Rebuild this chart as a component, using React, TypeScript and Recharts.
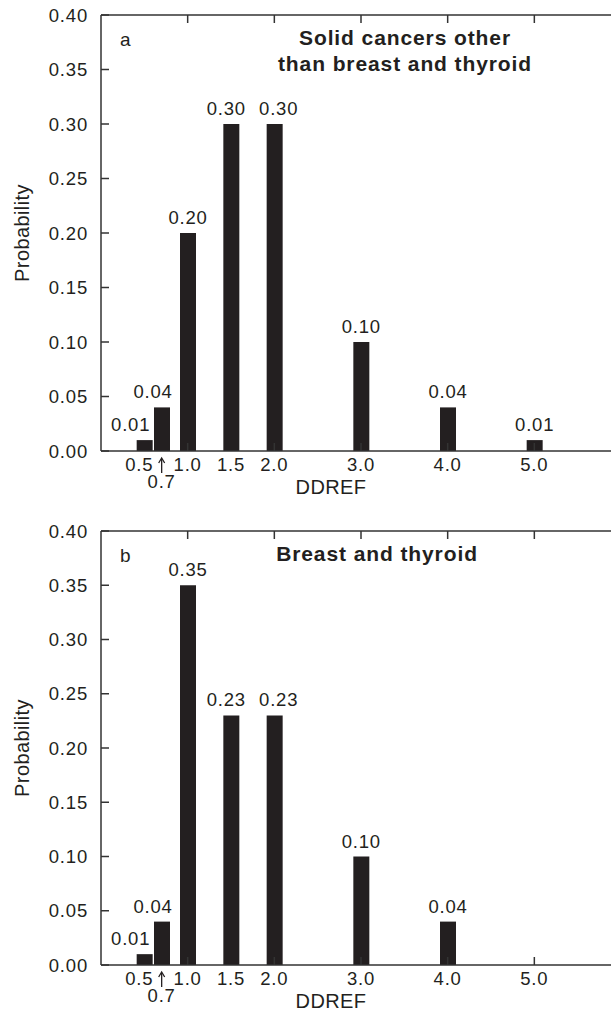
import React from 'react';
import { BarChart, Bar, XAxis, YAxis, LabelList, ReferenceLine } from 'recharts';

const ddref = [0.5, 0.7, 1.0, 1.5, 2.0, 3.0, 4.0, 5.0];
const probSolid = [0.01, 0.04, 0.2, 0.3, 0.3, 0.1, 0.04, 0.01];
const probBreastThyroid = [0.01, 0.04, 0.35, 0.23, 0.23, 0.1, 0.04, null];

const xLabelTicks = [0.5, 0.7, 1.0, 1.5, 2.0, 3.0, 4.0, 5.0];
const yTicks = [0, 0.05, 0.1, 0.15, 0.2, 0.25, 0.3, 0.35, 0.4];

// value labels nudged sideways where neighbours would touch
const LABEL_DX: Record<string, number> = { '0.5': -14, '0.7': -9, '1.5': -5, '2': 4 };

const INK = '#231f20';
const AXIS = '#333333';
const FONT = '"Liberation Sans", Arial, Helvetica, sans-serif';
const numText = { fill: INK, fontSize: 18.5, fontFamily: FONT, letterSpacing: 0.8 };
const TICK_LEN = 8;

// bottom labels + inward tick marks (bottom and top) at whole numbers
function DdrefTick(props: any) {
  const { x, y, payload, plotHeight } = props;
  const v = payload.value as number;
  const label = v.toFixed(1);
  const whole = Math.abs(v - Math.round(v)) < 1e-9;
  const marks = whole ? (
    <>
      <line x1={x} y1={y} x2={x} y2={y - TICK_LEN} stroke={AXIS} strokeWidth={1.5} />
      <line x1={x} y1={y - plotHeight} x2={x} y2={y - plotHeight + TICK_LEN} stroke={AXIS} strokeWidth={1.5} />
    </>
  ) : null;
  if (Math.abs(v - 0.7) < 1e-9) {
    return (
      <g>
        <line x1={x} y1={y + 8} x2={x} y2={y + 22} stroke={INK} strokeWidth={1.3} />
        <polyline
          points={`${x - 3},${y + 12} ${x},${y + 7} ${x + 3},${y + 12}`}
          fill="none"
          stroke={INK}
          strokeWidth={1.3}
        />
        <text x={x} y={y + 37} textAnchor="middle" style={numText}>{label}</text>
      </g>
    );
  }
  const dx = v === 0.5 ? -5 : 0;
  return (
    <g>
      {marks}
      <text x={x + dx} y={y + 20} textAnchor="middle" style={numText}>{label}</text>
    </g>
  );
}

// y labels outside, tick marks pointing into the plot
function ProbTick(props: any) {
  const { x, y, payload } = props;
  const axisX = x + 13;
  return (
    <g>
      <line x1={axisX} y1={y} x2={axisX + TICK_LEN} y2={y} stroke={AXIS} strokeWidth={1.5} />
      <text x={x} y={y + 6.5} textAnchor="end" style={numText}>
        {Number(payload.value).toFixed(2)}
      </text>
    </g>
  );
}

function renderValueLabel(props: any) {
  const { x, y, width, value, index } = props;
  if (value === null || value === undefined) return null;
  const dx = LABEL_DX[String(ddref[index])] ?? 0;
  return (
    <text
      key={index}
      x={Number(x) + Number(width) / 2 + dx}
      y={Number(y) - 9}
      textAnchor="middle"
      style={numText}
    >
      {Number(value).toFixed(2)}
    </text>
  );
}

interface PanelProps {
  values: (number | null)[];
  letter: string;
  title: string[];
  titleX: number;
  top: number;
  plotHeight: number;
}

function Panel({ values, letter, title, titleX, top, plotHeight }: PanelProps) {
  const data = ddref.map((x, i) => ({ x, p: values[i] }));
  const plotTop = 15;
  const plotBottom = plotTop + plotHeight;
  return (
    <div style={{ position: 'absolute', left: 0, top }}>
      <BarChart
        width={640}
        height={plotBottom + 70}
        data={data}
        margin={{ top: plotTop, right: 19, bottom: 20, left: 41 }}
      >
        <XAxis
          dataKey="x"
          type="number"
          domain={[0, 6]}
          allowDataOverflow
          ticks={xLabelTicks}
          interval={0}
          height={50}
          tickSize={0}
          tickMargin={0}
          tickLine={false}
          axisLine={{ stroke: AXIS, strokeWidth: 1.5 }}
          tick={<DdrefTick plotHeight={plotHeight} />}
        />
        <YAxis
          type="number"
          domain={[0, 0.4]}
          allowDataOverflow
          ticks={yTicks}
          interval={0}
          width={60}
          tickSize={0}
          tickMargin={13}
          tickLine={false}
          axisLine={{ stroke: AXIS, strokeWidth: 1.5 }}
          tick={<ProbTick />}
        />
        <ReferenceLine y={0.4} stroke={AXIS} strokeWidth={1.5} />
        <Bar dataKey="p" fill={INK} barSize={16} isAnimationActive={false}>
          <LabelList dataKey="p" content={renderValueLabel} />
        </Bar>

        <text
          transform={`translate(29, ${plotTop + plotHeight / 2}) rotate(-90)`}
          textAnchor="middle"
          style={{ fill: INK, fontSize: 20, fontFamily: FONT, letterSpacing: 0.4 }}
        >
          Probability
        </text>
        <text
          x={331}
          y={plotBottom + 43}
          textAnchor="middle"
          style={{ fill: INK, fontSize: 20, fontFamily: FONT, letterSpacing: 0.4 }}
        >
          DDREF
        </text>
        <text x={120} y={plotTop + 31} style={{ fill: INK, fontSize: 19, fontFamily: FONT }}>
          {letter}
        </text>
        {title.map((line, i) => (
          <text
            key={line}
            x={titleX}
            y={plotTop + 30 + i * 26}
            textAnchor="middle"
            style={{ fill: INK, fontSize: 21, fontWeight: 'bold', fontFamily: FONT, letterSpacing: 0.9 }}
          >
            {line}
          </text>
        ))}
      </BarChart>
    </div>
  );
}

export default function App() {
  return (
    <div
      style={{
        position: 'fixed',
        left: 0,
        top: 0,
        width: 611,
        height: 1013,
        overflow: 'hidden',
        background: '#fff',
      }}
    >
      <Panel
        values={probSolid}
        letter="a"
        title={['Solid cancers other', 'than breast and thyroid']}
        titleX={405}
        top={0}
        plotHeight={436}
      />
      <Panel
        values={probBreastThyroid}
        letter="b"
        title={['Breast and thyroid']}
        titleX={377}
        top={516}
        plotHeight={434}
      />
    </div>
  );
}
